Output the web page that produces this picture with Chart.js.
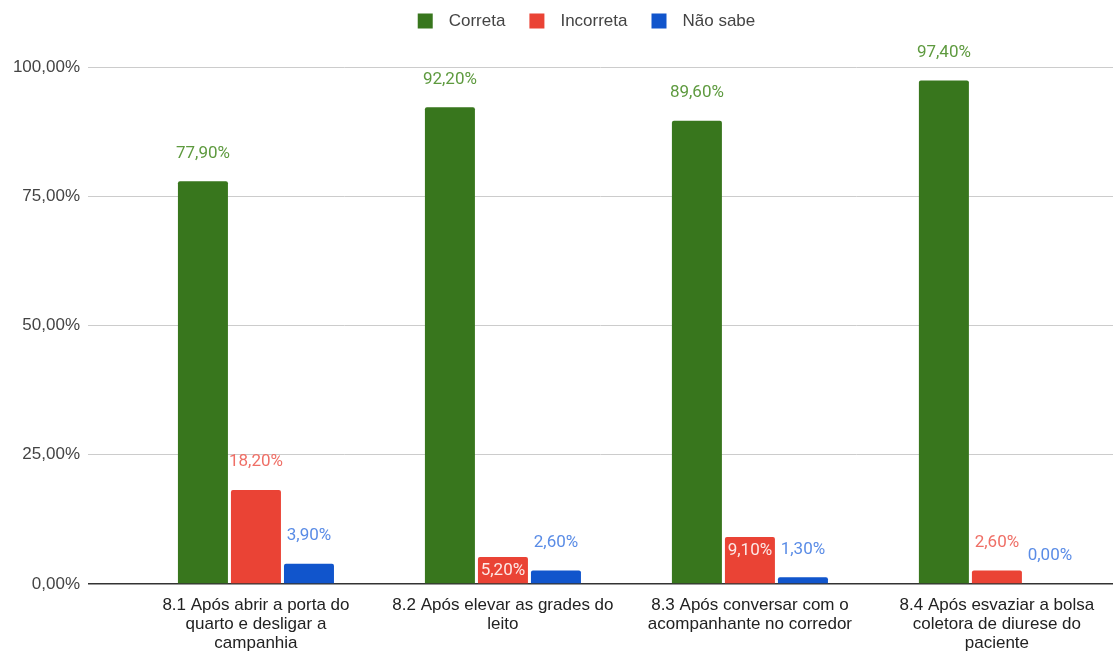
<!DOCTYPE html>
<html>
<head>
<meta charset="utf-8">
<script src="https://cdn.jsdelivr.net/npm/chart.js@4.4.0/dist/chart.umd.min.js"></script>
<style>
  html, body { margin: 0; padding: 0; background: #fff; }
  #wrap { width: 1113px; height: 652px; }
</style>
</head>
<body>
<div id="wrap"><canvas id="chart" width="1113" height="652"></canvas></div>
<script>
// categories and series
const categories = [
  ['8.1 Após abrir a porta do', 'quarto e desligar a', 'campanhia'],
  ['8.2 Após elevar as grades do', 'leito'],
  ['8.3 Após conversar com o', 'acompanhante no corredor'],
  ['8.4 Após esvaziar a bolsa', 'coletora de diurese do', 'paciente']
];
const correta = [77.9, 92.2, 89.6, 97.4];
const incorreta = [18.2, 5.2, 9.1, 2.6];
const naoSabe = [3.9, 2.6, 1.3, 0.0];
const yTicks = [0, 25, 50, 75, 100];

const seriesNames = ['Correta', 'Incorreta', 'Não sabe'];
const barColors = ['#38761d', '#ea4335', '#1155cc'];
const labelColors = ['#5e9a3f', '#ef6f66', '#5a8ce6'];
// labels that sit inside their bar: [dataset, index]
const insideLabels = [[1, 1], [1, 2]];

const FONT = "'Liberation Sans', Arial, sans-serif";
const pct = v => v.toFixed(2).replace('.', ',') + '%';
const toPoints = arr => arr.map((y, i) => ({ x: i, y }));

// value labels above each bar
const valueLabels = {
  id: 'valueLabels',
  afterDatasetsDraw(chart) {
    const ctx = chart.ctx;
    ctx.save();
    ctx.font = '17px Roboto, ' + FONT;
    ctx.textAlign = 'center';
    ctx.textBaseline = 'middle';
    chart.data.datasets.forEach((ds, di) => {
      chart.getDatasetMeta(di).data.forEach((bar, i) => {
        const inside = insideLabels.some(p => p[0] === di && p[1] === i);
        ctx.fillStyle = inside ? 'rgba(255,255,255,0.88)' : labelColors[di];
        const y = inside ? bar.y + 14 : bar.y - 28;
        ctx.fillText(pct(ds.data[i].y), bar.x, y);
      });
    });
    ctx.restore();
  }
};

// legend centred over the plot
const topLegend = {
  id: 'topLegend',
  afterDraw(chart) {
    const ctx = chart.ctx;
    const box = 15, gapText = 16, gapItem = 24, cy = 21;
    ctx.save();
    ctx.font = '17px ' + FONT;
    ctx.textBaseline = 'middle';
    const widths = seriesNames.map(n => ctx.measureText(n).width);
    const total = widths.reduce((s, w) => s + box + gapText + w, 0) + gapItem * (seriesNames.length - 1);
    const area = chart.chartArea;
    let x = (area.left + area.right) / 2 - 14 - total / 2;
    seriesNames.forEach((n, i) => {
      ctx.fillStyle = barColors[i];
      ctx.fillRect(x, cy - box / 2, box, box);
      x += box + gapText;
      ctx.fillStyle = '#444';
      ctx.fillText(n, x, cy);
      x += widths[i] + gapItem;
    });
    ctx.restore();
  }
};

new Chart(document.getElementById('chart'), {
  type: 'bar',
  data: {
    datasets: [correta, incorreta, naoSabe].map((arr, i) => ({
      label: seriesNames[i],
      data: toPoints(arr),
      backgroundColor: barColors[i],
      borderRadius: 2,
      borderSkipped: 'start',
      categoryPercentage: 0.644,
      barPercentage: 0.943
    }))
  },
  options: {
    responsive: false,
    animation: false,
    layout: { padding: { top: 67, right: 0, bottom: 0, left: 0 } },
    plugins: {
      legend: { display: false },
      tooltip: { enabled: false }
    },
    scales: {
      x: {
        type: 'linear',
        offset: false,
        min: -0.68,
        max: 3.47,
        grid: { display: false },
        border: { display: false },
        afterBuildTicks: axis => { axis.ticks = categories.map((c, i) => ({ value: i })); },
        afterFit: axis => { axis.height = 68; },
        ticks: {
          autoSkip: false,
          maxRotation: 0,
          padding: 4,
          color: '#222',
          font: { family: FONT, size: 17, lineHeight: 1.12 },
          callback: v => categories[v]
        }
      },
      y: {
        min: 0,
        max: 100,
        afterBuildTicks: axis => { axis.ticks = yTicks.map(v => ({ value: v })); },
        afterFit: axis => { axis.width = 88; },
        border: { display: false },
        grid: {
          drawTicks: false,
          color: c => c.tick.value === 0 ? '#333' : '#ccc',
          lineWidth: c => c.tick.value === 0 ? 1.5 : 1
        },
        ticks: {
          padding: 8,
          color: '#444',
          font: { family: FONT, size: 17 },
          callback: v => pct(v)
        }
      }
    }
  },
  plugins: [valueLabels, topLegend]
});
</script>
</body>
</html>
